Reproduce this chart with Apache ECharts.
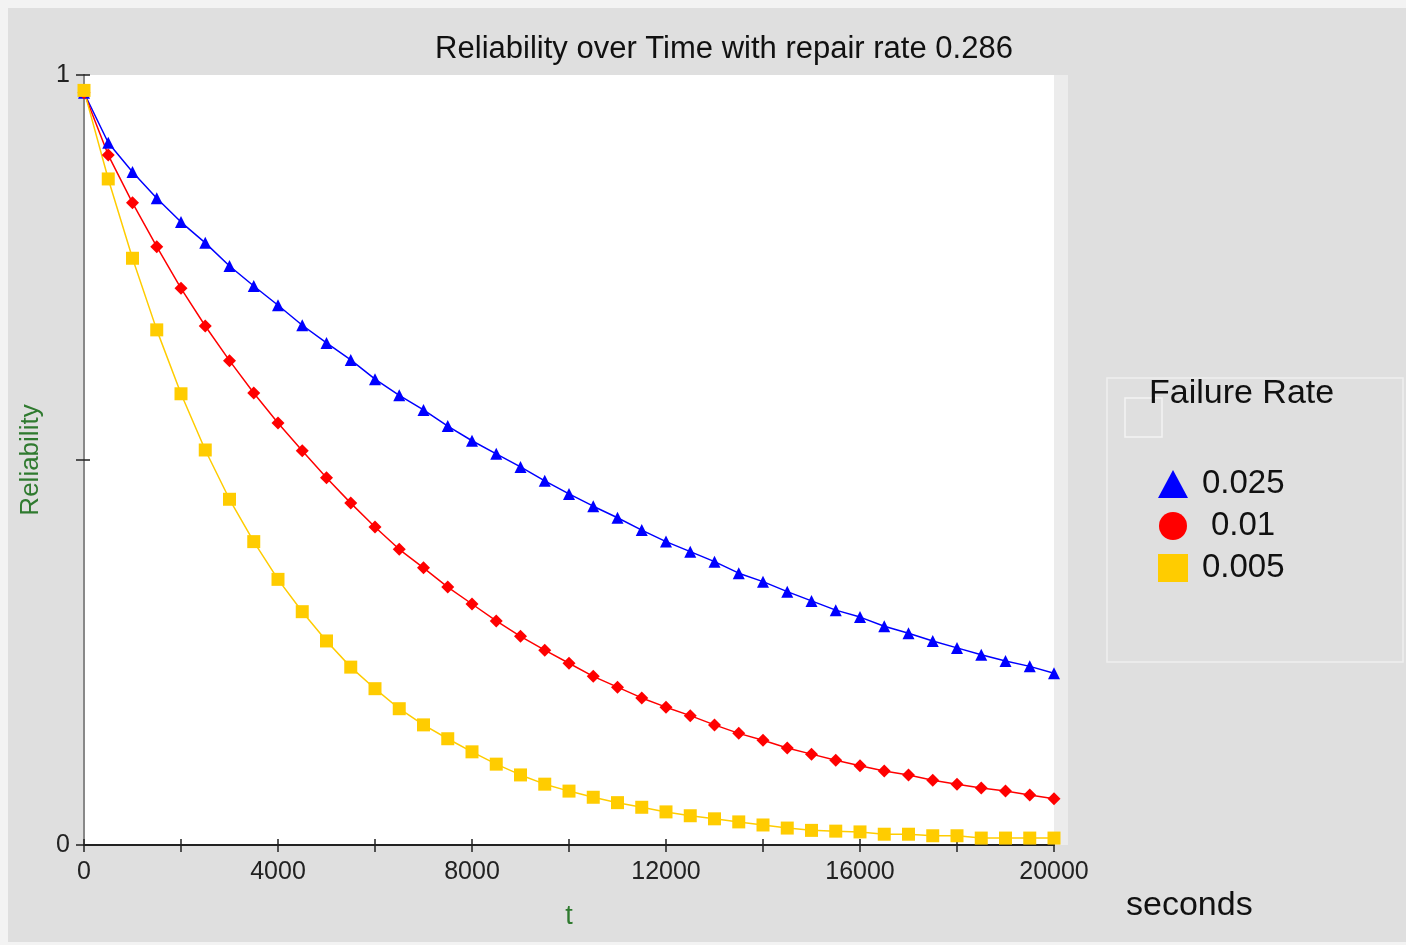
<!DOCTYPE html>
<html><head><meta charset="utf-8">
<script src="https://cdn.jsdelivr.net/npm/echarts@6/dist/echarts.min.js"></script>
<style>html,body{margin:0;padding:0;background:#f3f3f3;}#c{width:1406px;height:945px;}</style>
</head><body><div id="c"></div>
<script>
const times = [0,500,1000,1500,2000,2500,3000,3500,4000,4500,5000,5500,6000,6500,7000,7500,8000,8500,9000,9500,10000,10500,11000,11500,12000,12500,13000,13500,14000,14500,15000,15500,16000,16500,17000,17500,18000,18500,19000,19500,20000];
const rate025 = [0.977,0.912,0.874,0.840,0.809,0.782,0.752,0.726,0.701,0.675,0.652,0.630,0.605,0.584,0.565,0.544,0.525,0.508,0.491,0.473,0.456,0.440,0.425,0.409,0.394,0.381,0.368,0.353,0.342,0.329,0.317,0.305,0.296,0.284,0.275,0.265,0.256,0.247,0.239,0.232,0.223];
const rate01 = [0.977,0.896,0.834,0.777,0.723,0.674,0.629,0.587,0.548,0.512,0.477,0.444,0.413,0.384,0.360,0.335,0.313,0.291,0.271,0.253,0.236,0.219,0.205,0.191,0.179,0.168,0.156,0.145,0.136,0.126,0.118,0.110,0.103,0.096,0.091,0.084,0.079,0.074,0.070,0.065,0.060];
const rate005 = [0.980,0.865,0.762,0.669,0.586,0.513,0.449,0.394,0.345,0.303,0.265,0.231,0.203,0.177,0.156,0.138,0.121,0.105,0.091,0.079,0.070,0.062,0.055,0.049,0.043,0.038,0.034,0.030,0.026,0.022,0.019,0.018,0.017,0.014,0.014,0.012,0.012,0.009,0.009,0.009,0.009];
const seriesNames = ['0.025','0.01','0.005'];
const xTickLabels = [0,4000,8000,12000,16000,20000];
const yTickLabels = [0,1];

const chart = echarts.init(document.getElementById('c'), null, {renderer:'canvas'});
const pair = arr => times.map((t,i)=>[t,arr[i]]);
const FONT = 'Liberation Sans';
chart.setOption({
  backgroundColor: 'transparent',
  animation: false,
  graphic: [
    {type:'rect', z:-10, shape:{x:8,y:8,width:1398,height:934}, style:{fill:'#dfdfdf'}},
    {type:'rect', z:-9, shape:{x:1107,y:378,width:296,height:284}, style:{fill:'none',stroke:'#efefef',lineWidth:1.5}},
    {type:'rect', z:-9, shape:{x:1125,y:398,width:37,height:39}, style:{fill:'none',stroke:'#f4f4f4',lineWidth:1.5}},
    {type:'text', left:1149, top:377, style:{text:'Failure Rate', font:'34px '+FONT, fill:'#111'}},
    {type:'text', left:1126, top:889, style:{text:'seconds', font:'34px '+FONT, fill:'#111'}},
    {type:'rect', z:-8, shape:{x:1052,y:75,width:16,height:770}, style:{fill:'#ececec'}}
  ],
  title: {
    text: 'Reliability over Time with repair rate 0.286',
    left: 719, top: 29, textAlign: 'center',
    textStyle: {fontFamily: FONT, fontSize: 31, fontWeight: 'normal', color: '#111'}
  },
  legend: {
    orient: 'vertical', left: 1153, top: 462, itemGap: 8,
    itemWidth: 30, itemHeight: 28,
    textStyle: {fontFamily: FONT, fontSize: 33, lineHeight: 34, color: '#111', padding: [0,0,0,9]},
    data: [
      {name: seriesNames[0], icon: 'triangle'},
      {name: seriesNames[1], icon: 'circle', textStyle: {padding: [0,0,0,18]}},
      {name: seriesNames[2], icon: 'rect'}
    ]
  },
  grid: {left: 84, right: 352, top: 75, bottom: 100, show: true, backgroundColor: '#ffffff', borderWidth: 0},
  xAxis: [{
    type: 'value', min: 0, max: 20000, interval: 2000,
    name: 't', nameLocation: 'middle', nameGap: 58,
    nameTextStyle: {color: '#2f7a2f', fontFamily: FONT, fontSize: 27},
    axisLine: {show: true, onZero: false, lineStyle: {color: '#222', width: 2}},
    axisTick: {show: true, length: 7, lineStyle: {color: '#222', width: 1.5}},
    splitLine: {show: false},
    axisLabel: {margin: 15, fontFamily: FONT, fontSize: 25, color: '#222',
      formatter: v => xTickLabels.indexOf(v) >= 0 ? String(v) : ''}
  },{
    type: 'value', min: 0, max: 20000, interval: 2000, position: 'bottom',
    axisLine: {show: false}, axisTick: {show: true, inside: true, length: 6, lineStyle: {color: '#222', width: 1.5}},
    axisLabel: {show: false}, splitLine: {show: false}
  }],
  yAxis: [{
    type: 'value', min: 0, max: 1, interval: 0.5,
    name: 'Reliability', nameLocation: 'middle', nameGap: 40, nameRotate: 90,
    nameTextStyle: {color: '#2f7a2f', fontFamily: FONT, fontSize: 26},
    axisLine: {show: true, lineStyle: {color: '#666', width: 2}},
    axisTick: {show: true, length: 8, lineStyle: {color: '#222', width: 1.5}},
    splitLine: {show: false},
    axisLabel: {margin: 14, fontFamily: FONT, fontSize: 25, color: '#222',
      formatter: v => yTickLabels.indexOf(v) >= 0 ? String(v) : ''}
  },{
    type: 'value', min: 0, max: 1, interval: 0.5, position: 'left', offset: 7,
    axisLine: {show: true, lineStyle: {color: '#888', width: 2}},
    axisTick: {show: false}, axisLabel: {show: false}, splitLine: {show: false}
  },{
    type: 'value', min: 0, max: 1, interval: 0.5, position: 'left',
    axisLine: {show: false}, axisTick: {show: true, inside: true, length: 6, lineStyle: {color: '#222', width: 1.5}},
    axisLabel: {show: false}, splitLine: {show: false}
  }],
  series: [
    {name: seriesNames[0], type: 'line', data: pair(rate025), symbol: 'triangle', symbolSize: 12,
      itemStyle: {color: '#0000ff'}, lineStyle: {color: '#0000ff', width: 1.5}},
    {name: seriesNames[1], type: 'line', data: pair(rate01), symbol: 'diamond', symbolSize: 13,
      itemStyle: {color: '#ff0000'}, lineStyle: {color: '#ff0000', width: 1.5}},
    {name: seriesNames[2], type: 'line', data: pair(rate005), symbol: 'rect', symbolSize: 13,
      itemStyle: {color: '#ffcc00'}, lineStyle: {color: '#ffcc00', width: 1.5}}
  ]
});
</script></body></html>
